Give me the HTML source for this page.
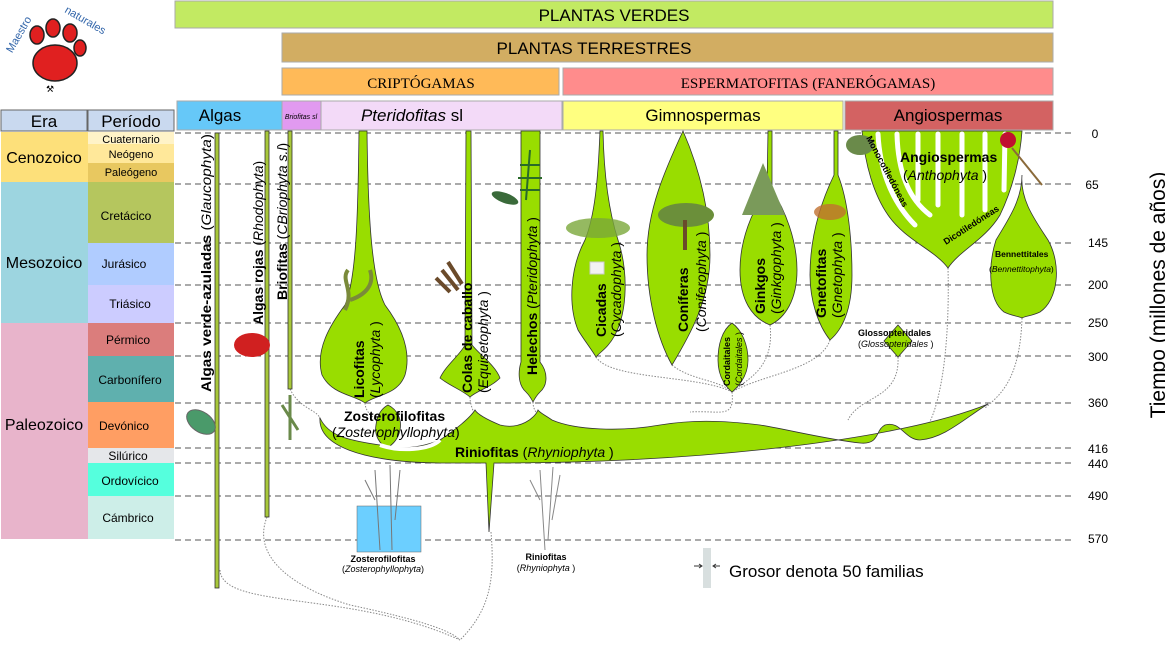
<!DOCTYPE html>
<html><head><meta charset="utf-8"><style>
body{margin:0;background:#fff}
svg{display:block;font-family:"Liberation Sans",sans-serif}
</style></head><body>
<svg width="1165" height="646" viewBox="0 0 1165 646" xmlns="http://www.w3.org/2000/svg">
<!-- top bars -->
<rect x="175" y="1" width="878" height="27" fill="#c2ea62" stroke="#aaa"/>
<text x="614" y="21" font-size="17" text-anchor="middle">PLANTAS VERDES</text>
<rect x="282" y="33" width="771" height="29" fill="#d2ad62" stroke="#aaa"/>
<text x="594" y="54" font-size="17" text-anchor="middle">PLANTAS TERRESTRES</text>
<rect x="282" y="68" width="277" height="27" fill="#ffba58" stroke="#aaa"/>
<text x="421" y="88" font-size="15" text-anchor="middle" font-family="Liberation Serif,serif">CRIPTÓGAMAS</text>
<rect x="563" y="68" width="490" height="27" fill="#ff8c8c" stroke="#aaa"/>
<text x="808" y="88" font-size="15" text-anchor="middle" font-family="Liberation Serif,serif">ESPERMATOFITAS (FANERÓGAMAS)</text>
<rect x="177" y="101" width="105" height="29" fill="#66c8f8" stroke="#aaa"/>
<text x="220" y="121" font-size="17" text-anchor="middle">Algas</text>
<rect x="282" y="101" width="39" height="29" fill="#e19af0" stroke="#aaa"/>
<text x="301" y="119" font-size="7" font-style="italic" text-anchor="middle">Briofitas sl</text>
<rect x="321" y="101" width="241" height="29" fill="#f3daf8" stroke="#aaa"/>
<text x="412" y="121" font-size="17" text-anchor="middle"><tspan font-style="italic">Pteridofitas</tspan> sl</text>
<rect x="563" y="101" width="280" height="29" fill="#ffff80" stroke="#aaa"/>
<text x="703" y="121" font-size="17" text-anchor="middle">Gimnospermas</text>
<rect x="845" y="101" width="208" height="29" fill="#d36262" stroke="#aaa"/>
<text x="948" y="121" font-size="17" text-anchor="middle">Angiospermas</text>

<!-- era table -->
<rect x="1" y="110" width="86" height="21" fill="#c9d9ef" stroke="#666"/>
<rect x="88" y="110" width="86" height="21" fill="#c9d9ef" stroke="#666"/>
<text x="44" y="127" font-size="17" text-anchor="middle">Era</text>
<text x="131" y="127" font-size="17" text-anchor="middle">Período</text>
<rect x="1" y="132" width="87" height="50" fill="#fde07a"/>
<rect x="1" y="182" width="87" height="141" fill="#9dd5e0"/>
<rect x="1" y="323" width="87" height="216" fill="#e8b4cb"/>
<text x="44" y="163" font-size="16" text-anchor="middle">Cenozoico</text>
<text x="44" y="268" font-size="16" text-anchor="middle">Mesozoico</text>
<text x="44" y="430" font-size="16" text-anchor="middle">Paleozoico</text>
<g font-size="12" text-anchor="middle">
<rect x="88" y="132" width="86" height="12" fill="#fff3c8"/><text x="131" y="143" font-size="11">Cuaternario</text>
<rect x="88" y="144" width="86" height="19" fill="#ffe89a"/><text x="131" y="158" font-size="11">Neógeno</text>
<rect x="88" y="163" width="86" height="19" fill="#e8c860"/><text x="131" y="176" font-size="11">Paleógeno</text>
<rect x="88" y="182" width="86" height="61" fill="#b5c65e"/><text x="126" y="220">Cretácico</text>
<rect x="88" y="243" width="86" height="42" fill="#b0ccff"/><text x="124" y="268">Jurásico</text>
<rect x="88" y="285" width="86" height="38" fill="#ccccff"/><text x="130" y="308">Triásico</text>
<rect x="88" y="323" width="86" height="33" fill="#db7d7c"/><text x="128" y="344">Pérmico</text>
<rect x="88" y="356" width="86" height="46" fill="#5fb0ae"/><text x="130" y="384">Carbonífero</text>
<rect x="88" y="402" width="86" height="46" fill="#ff9e63"/><text x="124" y="430">Devónico</text>
<rect x="88" y="448" width="86" height="15" fill="#e5e7ea"/><text x="128" y="460">Silúrico</text>
<rect x="88" y="463" width="86" height="33" fill="#55ffdd"/><text x="130" y="485">Ordovícico</text>
<rect x="88" y="496" width="86" height="43" fill="#cdeee8"/><text x="128" y="522">Cámbrico</text>
</g>

<!-- dashed lines -->
<g stroke="#555" stroke-dasharray="6,4" stroke-width="1">
<line x1="175" y1="133" x2="1075" y2="133"/><line x1="175" y1="184" x2="1075" y2="184"/>
<line x1="175" y1="243" x2="1075" y2="243"/><line x1="175" y1="285" x2="1075" y2="285"/>
<line x1="175" y1="323" x2="1075" y2="323"/><line x1="175" y1="356" x2="1075" y2="356"/>
<line x1="175" y1="403" x2="1075" y2="403"/><line x1="175" y1="448" x2="1075" y2="448"/>
<line x1="175" y1="463" x2="1075" y2="463"/><line x1="175" y1="496" x2="1075" y2="496"/>
<line x1="175" y1="540" x2="1075" y2="540"/>
</g>
<g font-size="12" text-anchor="middle">
<text x="1095" y="138">0</text><text x="1092" y="189">65</text><text x="1098" y="247">145</text>
<text x="1098" y="289">200</text><text x="1098" y="327">250</text><text x="1098" y="361">300</text>
<text x="1098" y="407">360</text><text x="1098" y="453">416</text><text x="1098" y="468">440</text>
<text x="1098" y="500">490</text><text x="1098" y="543">570</text>
</g>
<text transform="translate(1165,295) rotate(-90)" font-size="21" text-anchor="middle">Tiempo (millones de años)</text>

<!-- dotted connectors -->
<g fill="none" stroke="#888" stroke-width="1" stroke-dasharray="1.5,1.5">
<path d="M596 357 C610 380,700 375,732 392"/>
<path d="M672 365 C690 380,720 380,732 392"/>
<path d="M770 325 C775 370,745 380,732 392"/>
<path d="M830 340 C820 370,760 375,732 392"/>
<path d="M732 392 C735 420,720 410,690 412"/>
<path d="M898 357 C900 400,860 395,848 420"/>
<path d="M948 268 C950 350,940 410,925 430"/>
<path d="M1022 318 C1020 380,1000 395,985 408"/>
<path d="M365 403 C366 420,390 425,395 430"/>
<path d="M470 397 C470 410,480 420,475 425"/>
<path d="M533 402 C533 412,540 415,538 418"/>
<path d="M220 570 C222 610,350 590,460 640"/>
<path d="M267 517 C250 560,300 590,350 605 C420 620,450 630,460 640"/>
<path d="M491 532 C495 580,490 610,460 640"/>
<path d="M290 389 C300 410,320 410,320 420"/>
</g>

<!-- algae lines -->
<g fill="#a8c83a" stroke="#333" stroke-width="0.8">
<rect x="215" y="133" width="4" height="455"/>
<rect x="265" y="131" width="4" height="386"/>
<rect x="288" y="131" width="4" height="258"/>
</g>

<!-- green shapes -->
<g fill="#99dd00" stroke="#333" stroke-width="0.8">
<path d="M359 131 L367 131 C368 220,372 280,385 305 C400 325,412 350,405 375 C398 395,375 395,365 403 C355 395,332 395,322 375 C315 350,330 325,345 305 C356 280,358 220,359 131Z"/>
<path d="M466 131 L471 131 L472 345 C480 355,495 365,500 378 C490 388,478 390,470 397 C462 390,450 386,440 378 C446 365,460 355,465 345Z"/>
<path d="M521 131 L540 131 L540 362 C548 372,548 385,540 392 C536 396,534 400,533 402 C532 400,530 396,526 392 C518 385,518 372,521 362Z"/>
<path d="M600 131 L603 131 C604 180,610 215,618 240 C628 270,628 310,615 335 C608 348,600 352,596 357 C592 350,584 340,578 330 C568 305,570 268,585 240 C595 215,598 180,600 131Z"/>
<path d="M683 131 C700 170,710 210,710 255 C710 300,690 335,672 365 C658 340,647 300,647 255 C647 210,665 170,683 131Z"/>
<path d="M768 131 L772 131 L772 190 C785 210,797 240,797 270 C797 300,785 318,770 325 C752 318,740 300,740 270 C740 240,752 210,767 190Z"/>
<path d="M834 131 L838 131 L838 175 C848 200,852 240,852 275 C852 310,842 330,830 340 C818 325,810 300,810 275 C810 235,822 200,834 175Z"/>
<path d="M732 323 C742 330,748 345,748 360 C748 375,740 385,732 392 C724 385,718 375,718 360 C718 345,722 330,732 323Z"/>
<path d="M898 325 L912 341 L898 357 L884 341Z"/>
<path d="M1022 175 C1020 200,1035 220,1048 240 C1062 265,1058 300,1040 312 C1032 316,1025 316,1022 318 C1018 316,1012 316,1004 312 C988 300,988 265,996 240 C1008 220,1022 200,1022 175Z"/>
<path d="M862 131 L1022 131 C1020 160,1012 190,1000 215 C985 240,960 250,948 268 C935 250,905 240,888 215 C874 195,865 165,862 131Z"/>
<path d="M388 405 C398 410,402 420,400 430 C398 440,392 445,387 448 C380 444,374 436,376 425 C377 415,382 408,388 405Z"/>
<path d="M320 418 C318 445,360 462,440 463 L486 463 L489 532 L494 463 C700 463,900 440,988 404 C965 418,945 438,920 440 C905 440,900 420,885 425 C875 430,880 445,860 443 C830 440,790 430,760 425 C720 420,690 420,660 425 C620 432,575 430,552 420 C545 415,540 413,538 410 C535 418,520 430,500 425 C488 420,478 415,475 410 C470 418,455 430,440 440 C420 448,400 450,380 445 C345 440,328 435,320 418Z"/>
</g>
<path d="M380 445 C400 452,430 450,440 440" fill="none" stroke="#fff" stroke-width="4"/>
<!-- angiosperm fingers -->
<g stroke="#fff" stroke-width="5" stroke-linecap="round" fill="none">
<path d="M878 134 C880 175,895 205,915 225"/>
<path d="M897 134 C898 175,910 200,930 215"/>
<path d="M918 134 L918 200"/><path d="M938 134 L938 205"/>
<path d="M962 134 L962 215"/><path d="M985 134 L985 210"/>
<path d="M1005 134 L1004 190"/>
</g>

<!-- plant illustrations (approx) -->
<ellipse cx="252" cy="345" rx="18" ry="12" fill="#d02020"/>
<ellipse cx="201" cy="422" rx="16" ry="10" fill="#4a9a6a" stroke="#666" transform="rotate(35 201 422)"/>
<path d="M345 310 C355 290,340 280,348 270 M350 300 C365 295,375 285,370 270" stroke="#7a8a3a" stroke-width="4" fill="none"/>
<path d="M442 270 L458 290 M436 278 L450 292 M448 262 L462 284" stroke="#6a4a2a" stroke-width="4"/>
<path d="M530 150 L526 200 M520 165 L540 165 M518 178 L542 178 M520 190 L540 190" stroke="#2a6a2a" stroke-width="2"/>
<ellipse cx="505" cy="198" rx="14" ry="5" fill="#3a6a3a" transform="rotate(20 505 198)"/>
<ellipse cx="598" cy="228" rx="32" ry="10" fill="#7aa83a" opacity="0.8"/>
<rect x="590" y="262" width="14" height="12" fill="#f2f2f2" stroke="#ccc"/>
<ellipse cx="686" cy="215" rx="28" ry="12" fill="#6b8f3a"/>
<rect x="683" y="220" width="4" height="30" fill="#6a4a2a"/>
<path d="M763 163 L785 215 L742 215Z" fill="#7a9a5a"/>
<ellipse cx="830" cy="212" rx="16" ry="8" fill="#c07030" opacity="0.8"/>
<ellipse cx="860" cy="145" rx="14" ry="10" fill="#6a8a4a"/>
<circle cx="1008" cy="140" r="8" fill="#c01030"/>
<path d="M1012 148 L1042 185" stroke="#8a6a3a" stroke-width="2"/>
<path d="M290 395 L290 440 M282 405 L298 430" stroke="#6a8a4a" stroke-width="3"/>
<rect x="357" y="506" width="64" height="46" fill="#6ccfff" stroke="#666" stroke-width="0.5"/>
<path d="M375 470 L380 550 M390 465 L392 550 M365 480 L375 500 M400 470 L395 520" stroke="#777" stroke-width="1" fill="none"/>
<path d="M540 470 L545 550 M553 467 L548 540 M530 480 L540 500 M560 475 L552 520" stroke="#888" stroke-width="1" fill="none"/>

<!-- labels -->
<g font-size="14">
<text transform="translate(211,392) rotate(-90)" textLength="258" lengthAdjust="spacingAndGlyphs"><tspan font-weight="bold">Algas verde-azuladas</tspan> (<tspan font-style="italic">Glaucophyta</tspan>)</text>
<text transform="translate(263,325) rotate(-90)"><tspan font-weight="bold">Algas rojas</tspan> (<tspan font-style="italic">Rhodophyta</tspan>)</text>
<text transform="translate(287,300) rotate(-90)"><tspan font-weight="bold">Briofitas</tspan> (<tspan font-style="italic">CBriophyta s.l</tspan>)</text>
<text transform="translate(364,398) rotate(-90)" font-weight="bold">Licofitas</text>
<text transform="translate(380,398) rotate(-90)">(<tspan font-style="italic">Lycophyta</tspan> )</text>
<text transform="translate(472,393) rotate(-90)" font-weight="bold">Colas de caballo</text>
<text transform="translate(488,393) rotate(-90)">(<tspan font-style="italic">Equisetophyta</tspan> )</text>
<text transform="translate(537,375) rotate(-90)"><tspan font-weight="bold">Helechos</tspan> (<tspan font-style="italic">Pteridophyta</tspan> )</text>
<text transform="translate(606,337) rotate(-90)" font-weight="bold">Cicadas</text>
<text transform="translate(621,337) rotate(-90)">(<tspan font-style="italic">Cycadophyta</tspan> )</text>
<text transform="translate(688,332) rotate(-90)" font-weight="bold">Coníferas</text>
<text transform="translate(706,332) rotate(-90)">(<tspan font-style="italic">Coniferophyta</tspan> )</text>
<text transform="translate(765,314) rotate(-90)" font-weight="bold">Ginkgos</text>
<text transform="translate(781,314) rotate(-90)">(<tspan font-style="italic">Ginkgophyta</tspan> )</text>
<text transform="translate(826,318) rotate(-90)" font-weight="bold">Gnetofitas</text>
<text transform="translate(842,318) rotate(-90)">(<tspan font-style="italic">Gnetophyta</tspan> )</text>
<text x="900" y="162" font-weight="bold">Angiospermas</text>
<text x="903" y="180">(<tspan font-style="italic">Anthophyta</tspan> )</text>
<text x="344" y="421" font-weight="bold">Zosterofilofitas</text>
<text x="332" y="437">(<tspan font-style="italic">Zosterophyllophyta</tspan>)</text>
<text x="455" y="457"><tspan font-weight="bold">Riniofitas</tspan> (<tspan font-style="italic">Rhyniophyta</tspan> )</text>
</g>
<g font-size="9">
<text transform="translate(730,386) rotate(-90)" font-weight="bold">Cordaitales</text>
<text transform="translate(742,386) rotate(-90)">(<tspan font-style="italic">Cordaitales</tspan> )</text>
<text transform="translate(866,138) rotate(62)" font-weight="bold">Monocotiledóneas</text>
<text transform="translate(946,245) rotate(-33)" font-weight="bold">Dicotiledóneas</text>
<text x="995" y="257" font-weight="bold" font-size="8.5">Bennettitales</text>
<text x="989" y="272" font-size="8.5">(<tspan font-style="italic">Bennettitophyta</tspan>)</text>
<text x="858" y="336" font-weight="bold">Glossopteridales</text>
<text x="858" y="347">(<tspan font-style="italic">Glossopteridales</tspan> )</text>
<text x="383" y="562" font-weight="bold" text-anchor="middle">Zosterofilofitas</text>
<text x="383" y="572" text-anchor="middle">(<tspan font-style="italic">Zosterophyllophyta</tspan>)</text>
<text x="546" y="560" font-weight="bold" text-anchor="middle">Riniofitas</text>
<text x="546" y="571" text-anchor="middle">(<tspan font-style="italic">Rhyniophyta</tspan> )</text>
</g>

<!-- legend -->
<rect x="703" y="548" width="8" height="40" fill="#d8dfdf"/>
<path d="M694 566 L702 566 M699 564 L702 566 L699 568 M720 566 L713 566 M716 564 L713 566 L716 568" stroke="#333" stroke-width="1" fill="none"/>
<text x="729" y="577" font-size="17">Grosor denota 50 familias</text>

<!-- logo -->
<ellipse cx="55" cy="63" rx="22" ry="18" fill="#e02020" stroke="#222" stroke-width="1.5"/>
<ellipse cx="37" cy="35" rx="7" ry="9" fill="#e02020" stroke="#222" stroke-width="1.5"/>
<ellipse cx="53" cy="28" rx="7" ry="9" fill="#e02020" stroke="#222" stroke-width="1.5"/>
<ellipse cx="70" cy="33" rx="7" ry="9" fill="#e02020" stroke="#222" stroke-width="1.5"/>
<ellipse cx="80" cy="48" rx="6" ry="8" fill="#e02020" stroke="#222" stroke-width="1.5"/>
<text x="10" y="50" font-size="11" fill="#3366aa" transform="rotate(-60 14 50)">Maestro</text>
<text x="64" y="12" font-size="11" fill="#3366aa" transform="rotate(30 64 12)">naturales</text>
<text x="50" y="92" font-size="9" text-anchor="middle">⚒</text>
</svg>
</body></html>
